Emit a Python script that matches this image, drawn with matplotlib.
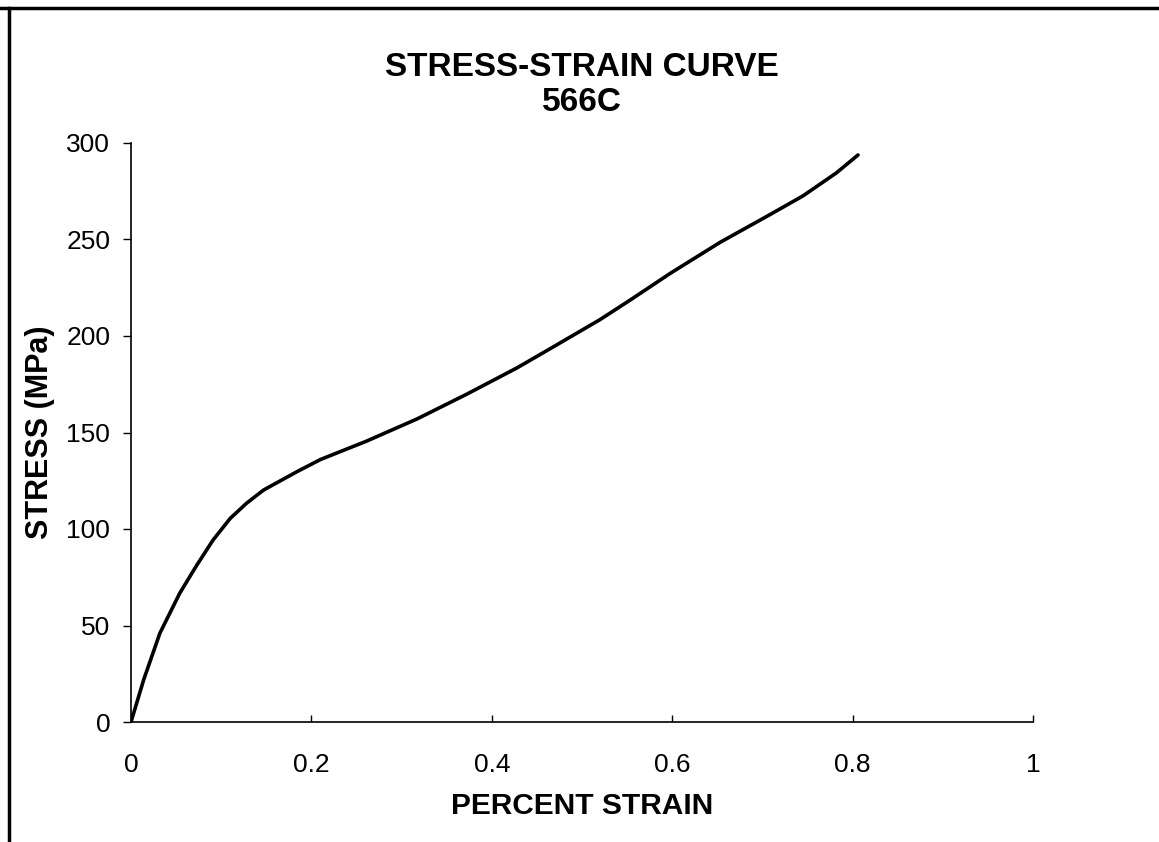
import matplotlib
matplotlib.use("Agg")
import matplotlib.pyplot as plt
from matplotlib.lines import Line2D

# values
strain = [0.0, 0.014, 0.032, 0.054, 0.073, 0.091, 0.110, 0.128, 0.147,
          0.184, 0.210, 0.261, 0.317, 0.372, 0.428, 0.465, 0.520,
          0.553, 0.598, 0.653, 0.708, 0.745, 0.782, 0.806]
stress = [0.0, 21.8, 46.0, 66.7, 81.3, 94.3, 105.5, 113.3, 120.2,
          129.7, 136.0, 145.5, 157.0, 169.8, 183.5, 193.5, 208.5,
          218.5, 232.5, 248.5, 262.8, 272.6, 284.5, 293.8]

x_ticks = [0, 0.2, 0.4, 0.6, 0.8, 1]
x_tick_labels = ["0", "0.2", "0.4", "0.6", "0.8", "1"]
y_ticks = [0, 50, 100, 150, 200, 250, 300]

plt.rcParams['font.family'] = ['Liberation Sans', 'DejaVu Sans']

fig = plt.figure(figsize=(11.59, 8.42), dpi=100)
ax = fig.add_axes([131 / 1159, 1 - 722 / 842, 902 / 1159, 579 / 842])

ax.plot(strain, stress, color='black', linewidth=2.6,
        solid_capstyle='round', solid_joinstyle='round')

ax.set_xlim(0, 1)
ax.set_ylim(0, 300)
ax.set_xticks(x_ticks)
ax.set_xticklabels(x_tick_labels)
ax.set_yticks(y_ticks)

ax.spines['top'].set_visible(False)
ax.spines['right'].set_visible(False)
for side in ('left', 'bottom'):
    ax.spines[side].set_linewidth(1.2)
    ax.spines[side].set_color('black')

ax.tick_params(axis='x', direction='in', length=5, width=1, pad=22, labelsize=19)
ax.tick_params(axis='y', direction='out', length=6, width=1, pad=9, labelsize=19)

ax.set_xlabel("PERCENT STRAIN", fontsize=21.5, fontweight='bold', va='center')
ax.xaxis.set_label_coords(0.5, -0.145)
ax.set_ylabel("STRESS (MPa)", fontsize=22, fontweight='bold', va='center')
ax.yaxis.set_label_coords(-0.101, 0.5)

ax.text(0.5, 1.10, "STRESS-STRAIN CURVE\n566C", transform=ax.transAxes,
        ha='center', va='center', fontsize=24, fontweight='bold', linespacing=1.15)

# scanned page frame (top and left edges)
fig.add_artist(Line2D([0, 1], [1 - 8 / 842, 1 - 8 / 842], transform=fig.transFigure,
                      color='black', linewidth=2.5))
fig.add_artist(Line2D([9 / 1159, 9 / 1159], [0, 1 - 8 / 842], transform=fig.transFigure,
                      color='black', linewidth=2.5))

fig.savefig("out.png", dpi=100)
